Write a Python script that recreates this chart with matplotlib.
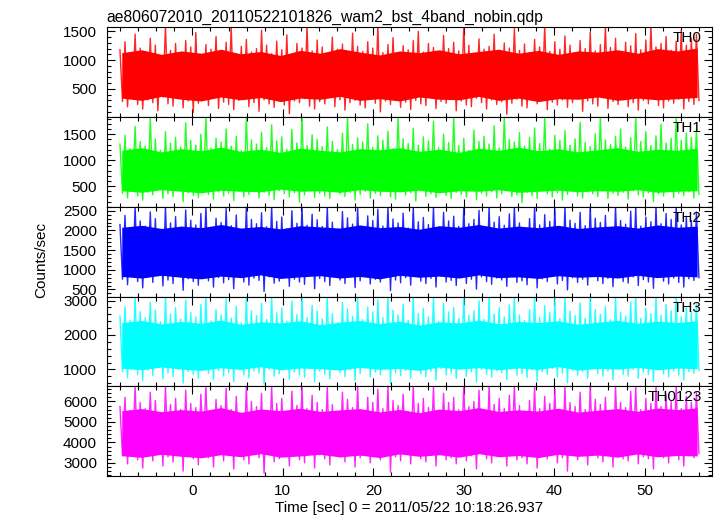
#!/usr/bin/env python3
"""WAM burst light curve, 4 energy bands plus sum (qdp style)."""

import matplotlib
matplotlib.use("Agg")
import matplotlib.pyplot as plt
import numpy as np
from matplotlib.ticker import MultipleLocator

TITLE = "ae806072010_20110522101826_wam2_bst_4band_nobin.qdp"
XLABEL = "Time [sec] 0 = 2011/05/22 10:18:26.937"
YLABEL = "Counts/sec"
T_START, T_END = -8.0, 56.0

bands = ["TH0", "TH1", "TH2", "TH3", "TH0123"]
colors = ["#ff0000", "#00ff00", "#0000ff", "#00ffff", "#ff00ff"]
ylims = [(10, 1570), (100, 1830), (320, 2600), (510, 3115), (2360, 6740)]
yticks = [[500, 1000, 1500], [500, 1000, 1500], [500, 1000, 1500, 2000, 2500],
          [1000, 2000, 3000], [3000, 4000, 5000, 6000]]
yminor = [100, 100, 100, 200, 200]

# spike extremes (upward / downward excursions, in order)
th0_hi = [1180, 1320, 1090, 1450, 1210, 1130, 1380, 1260, 1050, 1600, 1170, 1290, 1120, 1340, 1230, 1480, 1100, 1270, 1190, 1410,
          1150, 1310, 1600, 1080, 1240, 1360, 1140, 1200, 1520, 1260, 1110, 1330, 1180, 1440, 1070, 1290, 1210, 1600, 1160, 1350,
          1230, 1120, 1400, 1190, 1280, 1060, 1470, 1240, 1150, 1320, 1210, 1600, 1130, 1270, 1390, 1100, 1250, 1180, 1340, 1500,
          1140, 1290, 1220, 1080, 1430, 1200, 1310, 1160, 1600, 1260, 1120, 1370, 1190, 1240, 1450, 1090, 1300, 1210, 1550, 1170,
          1280, 1130, 1360, 1230, 1600, 1150, 1320, 1190, 1420, 1260, 1110, 1340, 1200, 1490, 1160, 1270, 1600, 1220, 1380, 1140,
          1310, 1250, 1460, 1180, 1350, 1600, 1230, 1290, 1410, 1170, 1330, 1520, 1260, 1380, 1450]
th0_lo = [280, 190, 340, 230, 150, 310, 260, 120, 360, 240, 200, 330, 170, 290, 90, 250, 320, 210, 380, 160,
          270, 230, 140, 300, 350, 190, 260, 110, 310, 240, 180, 340, 220, 70, 290, 260, 330, 200, 150, 280,
          240, 370, 190, 310, 130, 260, 300, 220, 170, 350, 250, 100, 290, 230, 320, 180, 270, 140, 300, 240,
          210, 360, 160, 280, 250, 330, 120, 290, 220, 190, 340, 260, 150, 310, 230, 280, 60, 250, 320, 200,
          170, 300, 240, 350, 140, 270, 220, 310, 180, 260, 330, 110, 290, 240, 200, 350, 160, 280, 230, 310,
          190, 260, 130, 300, 240, 340, 210, 170, 290, 250, 320, 150, 280, 230, 300]
th1_hi = [1310, 1480, 1220, 1650, 1360, 1270, 1830, 1410, 1190, 1550, 1330, 1440, 1250, 1720, 1380, 1290, 1500, 1830, 1230, 1420,
          1350, 1600, 1270, 1460, 1180, 1830, 1390, 1310, 1540, 1240, 1680, 1370, 1450, 1210, 1590, 1330, 1830, 1280, 1490, 1400,
          1260, 1640, 1360, 1200, 1520, 1830, 1300, 1430, 1350, 1700, 1250, 1470, 1380, 1560, 1220, 1830, 1410, 1320, 1610, 1290,
          1450, 1370, 1750, 1240, 1500, 1340, 1830, 1280, 1420, 1190, 1580, 1360, 1460, 1310, 1660, 1230, 1830, 1400, 1350, 1530,
          1270, 1440, 1620, 1320, 1830, 1210, 1480, 1380, 1570, 1290, 1410, 1730, 1340, 1260, 1510, 1830, 1390, 1300, 1460, 1600,
          1250, 1430, 1830, 1360, 1550, 1280, 1470, 1690, 1330, 1420, 1830, 1380, 1520, 1440, 1600]
th1_lo = [360, 270, 410, 310, 230, 380, 330, 440, 260, 350, 300, 420, 200, 370, 320, 280, 450, 340, 250, 390,
          310, 360, 220, 400, 290, 340, 430, 270, 380, 320, 240, 410, 350, 290, 370, 190, 330, 420, 280, 360,
          310, 260, 440, 350, 300, 380, 230, 340, 400, 270, 360, 320, 450, 290, 250, 390, 330, 370, 210, 410,
          300, 350, 280, 430, 320, 260, 380, 340, 290, 420, 240, 360, 310, 390, 270, 350, 440, 300, 330, 180,
          380, 320, 260, 400, 350, 290, 370, 230, 340, 420, 310, 270, 390, 350, 300, 440, 260, 360, 320, 380,
          250, 410, 330, 290, 370, 200, 350, 310, 430, 280, 360, 320, 390, 270, 340]
th2_hi = [2150, 2380, 2060, 2600, 2240, 2110, 2470, 2300, 2020, 2600, 2190, 2350, 2080, 2520, 2260, 2140, 2430, 2600, 2050, 2310,
          2200, 2560, 2120, 2390, 2000, 2600, 2280, 2170, 2450, 2090, 2600, 2230, 2340, 2040, 2500, 2180, 2600, 2130, 2410, 2270,
          2100, 2600, 2210, 1990, 2480, 2320, 2160, 2600, 2070, 2370, 2250, 2540, 2110, 2600, 2290, 2190, 2440, 2060, 2600, 2220,
          2330, 2150, 2600, 2030, 2460, 2240, 2360, 2100, 2600, 2170, 2280, 2510, 2080, 2600, 2210, 2350, 2130, 2420, 2600, 2190,
          2050, 2300, 2600, 2140, 2400, 2230, 2550, 2090, 2600, 2260, 2180, 2460, 2120, 2600, 2310, 2200, 2380, 2070, 2600, 2250,
          2160, 2490, 2600, 2110, 2340, 2220, 2600, 2170, 2430, 2280, 2600, 2140, 2360, 2250, 2470]
th2_lo = [760, 620, 850, 700, 540, 810, 680, 900, 590, 740, 650, 830, 480, 770, 700, 610, 880, 720, 560, 800,
          670, 750, 520, 840, 690, 610, 790, 730, 450, 820, 660, 710, 870, 580, 760, 690, 630, 850, 520, 780,
          700, 600, 890, 740, 650, 810, 550, 720, 860, 640, 760, 690, 830, 470, 740, 670, 800, 610, 880, 710,
          650, 780, 560, 840, 690, 730, 600, 870, 650, 760, 510, 820, 700, 630, 790, 740, 580, 860, 680, 720,
          620, 810, 540, 770, 700, 850, 640, 730, 490, 800, 680, 760, 610, 840, 720, 650, 780, 570, 890, 700,
          660, 820, 600, 750, 690, 530, 830, 710, 640, 790, 680, 560, 770, 730, 800]
th3_hi = [2550, 2820, 2430, 3115, 2680, 2500, 2950, 2720, 2380, 3115, 2600, 2790, 2460, 3010, 2650, 2520, 2880, 3115, 2410, 2740,
          2580, 3050, 2490, 2830, 2350, 3115, 2700, 2560, 2920, 2450, 3115, 2640, 2780, 2400, 2980, 2590, 3115, 2510, 2860, 2690,
          2470, 3115, 2620, 2340, 2940, 2760, 2540, 3115, 2440, 2810, 2660, 3030, 2500, 3115, 2720, 2580, 2900, 2420, 3115, 2630,
          2770, 2530, 3115, 2390, 2910, 2670, 2800, 2480, 3115, 2570, 2700, 2990, 2450, 3115, 2610, 2790, 2520, 2870, 3115, 2580,
          2420, 2730, 3115, 2510, 2850, 2650, 3060, 2470, 3115, 2690, 2560, 2930, 2490, 3115, 2740, 2600, 2820, 2440, 3115, 2660,
          2550, 2960, 3115, 2480, 2780, 2620, 3115, 2570, 2880, 2700, 3115, 2530, 2810, 2680, 2940]
th3_lo = [930, 760, 1040, 850, 680, 980, 820, 1090, 720, 900, 790, 1010, 600, 940, 860, 740, 1070, 880, 700, 970,
          810, 910, 650, 1020, 840, 750, 960, 890, 570, 1000, 800, 870, 1060, 710, 930, 840, 770, 1030, 640, 950,
          860, 730, 1080, 900, 790, 990, 680, 880, 1040, 780, 920, 840, 1010, 590, 900, 820, 970, 740, 1070, 870,
          790, 950, 690, 1020, 840, 890, 730, 1060, 800, 930, 630, 1000, 860, 770, 960, 900, 710, 1050, 830, 880,
          760, 990, 660, 940, 860, 1030, 780, 890, 610, 980, 830, 930, 750, 1020, 880, 800, 950, 700, 1080, 860,
          810, 1000, 740, 920, 850, 650, 1010, 870, 780, 960, 840, 690, 940, 890, 970]
th0123_hi = [5750, 6200, 5550, 6740, 5950, 5650, 6450, 6050, 5450, 6740, 5850, 6150, 5600, 6550, 5900, 5700, 6350, 6740, 5500, 6100,
             5800, 6650, 5600, 6250, 5400, 6740, 6000, 5750, 6400, 5550, 6740, 5900, 6150, 5500, 6500, 5800, 6740, 5650, 6300, 5950,
             5600, 6740, 5850, 5450, 6450, 6100, 5700, 6740, 5550, 6200, 5950, 6600, 5650, 6740, 6050, 5800, 6350, 5500, 6740, 5900,
             6150, 5700, 6740, 5450, 6400, 5950, 6200, 5600, 6740, 5750, 6000, 6550, 5550, 6740, 5850, 6150, 5650, 6300, 6740, 5800,
             5500, 6050, 6740, 5650, 6250, 5900, 6600, 5550, 6740, 5950, 5750, 6450, 5600, 6740, 6100, 5850, 6200, 5500, 6740, 5950,
             5700, 6500, 6740, 5600, 6150, 5900, 6740, 5750, 6350, 6000, 6740, 5650, 6250, 5950, 6450]
th0123_lo = [3350, 2950, 3550, 3150, 2750, 3450, 3100, 3650, 2850, 3300, 3050, 3500, 2600, 3400, 3200, 2900, 3600, 3250, 2800, 3450,
             3100, 3350, 2700, 3550, 3150, 2950, 3400, 3250, 2500, 3500, 3050, 3200, 3600, 2850, 3350, 3150, 3000, 3550, 2750, 3400,
             3200, 2900, 3650, 3300, 3050, 3450, 2800, 3250, 3550, 3000, 3350, 3150, 3500, 2550, 3300, 3100, 3450, 2950, 3600, 3200,
             3050, 3400, 2850, 3550, 3150, 3250, 2950, 3600, 3100, 3350, 2700, 3500, 3200, 3000, 3400, 3300, 2850, 3550, 3150, 3250,
             2950, 3450, 2750, 3350, 3200, 3550, 3000, 3250, 2600, 3450, 3150, 3350, 2900, 3500, 3250, 3050, 3400, 2800, 3650, 3200,
             3100, 3500, 2950, 3300, 3200, 2700, 3550, 3250, 3000, 3400, 3150, 2850, 3350, 3250, 3450]

# solid core of each band (lower / upper edge along the run)
th0_core_lo = [340, 300, 370, 320, 290, 360, 310, 350, 280, 340, 320, 370, 300, 330, 290,
               360, 320, 310, 370, 300, 340, 280, 330, 320, 360, 300, 340, 310, 330, 350]
th0_core_hi = [1130, 1180, 1100, 1160, 1120, 1190, 1110, 1150, 1080, 1170, 1120, 1200, 1140, 1090, 1160,
               1130, 1180, 1110, 1150, 1190, 1120, 1170, 1100, 1160, 1140, 1180, 1120, 1200, 1160, 1210]
th1_core_lo = [410, 380, 430, 400, 370, 420, 400, 390, 440, 400, 410, 380, 430, 400, 390,
               420, 370, 410, 400, 430, 380, 400, 420, 390, 410, 400, 430, 380, 400, 410]
th1_core_hi = [1190, 1240, 1160, 1220, 1180, 1250, 1170, 1210, 1150, 1230, 1190, 1160, 1220, 1200, 1240,
               1170, 1210, 1150, 1230, 1190, 1250, 1180, 1220, 1160, 1200, 1240, 1170, 1210, 1190, 1230]
th2_core_lo = [830, 790, 860, 810, 770, 840, 800, 870, 780, 820, 850, 790, 830, 770, 860,
               810, 840, 790, 870, 800, 820, 780, 850, 810, 830, 790, 860, 800, 840, 820]
th2_core_hi = [2080, 2130, 2050, 2110, 2070, 2150, 2060, 2100, 2040, 2120, 2090, 2060, 2140, 2070, 2100,
               2030, 2120, 2080, 2150, 2060, 2110, 2070, 2130, 2050, 2090, 2120, 2060, 2140, 2080, 2110]
th3_core_lo = [1030, 990, 1070, 1010, 970, 1050, 1000, 1080, 990, 1040, 1020, 980, 1060, 1000, 1030,
               970, 1070, 1010, 1050, 990, 1040, 1000, 1080, 980, 1030, 1010, 1060, 990, 1040, 1020]
th3_core_hi = [2360, 2420, 2320, 2390, 2340, 2430, 2310, 2380, 2350, 2410, 2300, 2370, 2420, 2330, 2400,
               2290, 2380, 2350, 2430, 2320, 2390, 2360, 2410, 2310, 2370, 2420, 2340, 2400, 2360, 2410]
th0123_core_lo = [3350, 3270, 3420, 3320, 3250, 3400, 3300, 3450, 3280, 3340, 3420, 3290, 3380, 3260, 3440,
                  3320, 3400, 3280, 3450, 3300, 3360, 3260, 3420, 3320, 3380, 3280, 3440, 3300, 3360, 3340]
th0123_core_hi = [5550, 5650, 5500, 5600, 5530, 5700, 5470, 5630, 5550, 5670, 5510, 5590, 5650, 5490, 5610,
                  5450, 5630, 5550, 5700, 5510, 5590, 5530, 5670, 5480, 5570, 5650, 5520, 5680, 5600, 5690]

spikes = [(th0_hi, th0_lo), (th1_hi, th1_lo), (th2_hi, th2_lo),
          (th3_hi, th3_lo), (th0123_hi, th0123_lo)]
cores = [(th0_core_lo, th0_core_hi), (th1_core_lo, th1_core_hi), (th2_core_lo, th2_core_hi),
         (th3_core_lo, th3_core_hi), (th0123_core_lo, th0123_core_hi)]

plt.rcParams["font.family"] = ["Liberation Sans", "DejaVu Sans"]
plt.rcParams["font.size"] = 11

fig = plt.figure(figsize=(7.17, 5.16), dpi=100)
gs = fig.add_gridspec(5, 1, left=0.149, right=0.9925, top=0.947, bottom=0.0775, hspace=0)
axes = [fig.add_subplot(gs[i]) for i in range(5)]

for i, ax in enumerate(axes):
    hi, lo = spikes[i]
    y = np.ravel(np.column_stack([hi, lo]))
    t = np.linspace(T_START, T_END, len(y))
    core_lo, core_hi = cores[i]
    tc = np.linspace(T_START + 0.2, T_END - 0.2, len(core_lo))
    ax.fill_between(tc, core_lo, core_hi, color=colors[i], lw=0)
    ax.plot(t, y, color=colors[i], lw=1.0, alpha=0.85)

    ax.set_xlim(-9.45, 57.4)
    ax.set_ylim(*ylims[i])
    ax.set_yticks(yticks[i])
    ax.xaxis.set_major_locator(MultipleLocator(10))
    ax.xaxis.set_minor_locator(MultipleLocator(2))
    ax.yaxis.set_minor_locator(MultipleLocator(yminor[i]))
    ax.tick_params(which="both", direction="in", top=True, right=True, width=0.8)
    ax.tick_params(which="major", length=6)
    ax.tick_params(which="minor", length=3)
    ax.tick_params(axis="y", pad=7)
    ax.tick_params(axis="x", pad=6)
    if i < 4:
        ax.tick_params(labelbottom=False)
    ax.text(0.984, 0.955, bands[i], transform=ax.transAxes, ha="right", va="top")

axes[0].set_title(TITLE, loc="left", fontsize=11.3, pad=4)
axes[4].set_xlabel(XLABEL, labelpad=2)
fig.text(0.058, 0.496, YLABEL, rotation=90, ha="center", va="center")

fig.savefig("out.png", dpi=100)
